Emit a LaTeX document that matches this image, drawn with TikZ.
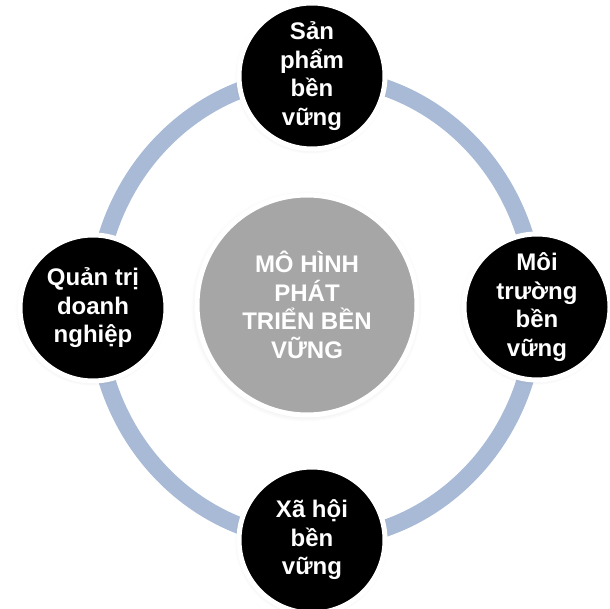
\documentclass[tikz,border=0pt]{standalone}
\usepackage{fontspec}
\setmainfont{Liberation Sans}
\usetikzlibrary{shadows}
\definecolor{ringblue}{RGB}{169, 186, 214}
\definecolor{hubgrey}{RGB}{166, 166, 166}
\tikzset{halo/.style = {circular drop shadow = {shadow scale = 1.05, shadow xshift = -1pt, shadow yshift = -1pt, opacity = 0.3}}}
\tikzset{pillar/.style = {draw = white, line width = 5, fill = black, circle, inner sep = 0, minimum size = 146, halo,
    text = white, align = center, font = \bfseries\fontsize{24}{28.5}\selectfont}}
\tikzset{core/.style = {draw = white, line width = 5, fill = hubgrey, circle, inner sep = 0, minimum size = 220, halo,
    text = white, align = center, font = \bfseries\fontsize{24}{28.5}\selectfont}}

\begin{document}
\begin{tikzpicture}[x = 1pt, y = -1pt]
      \useasboundingbox (0, 0) rectangle (610, 609);
      \coordinate (loop) at (316, 308);
      \draw [ringblue, line width = 17] (loop) ellipse [x radius = 220, y radius = 232];

      \node [core] (model) at (307, 305) {MÔ HÌNH\\PHÁT\\TRIỂN BỀN\\VỮNG};

      \node [pillar] (product) at (312, 76) {Sản\\phẩm\\bền\\vững};
      \node [pillar] (environment) at (537, 307) {Môi\\trường\\bền\\vững};
      \node [pillar] (society) at (312, 540) {Xã hội\\bền\\vững};
      \node [pillar] (governance) at (93, 308) {Quản trị\\doanh\\nghiệp};
    \end{tikzpicture}
\end{document}
